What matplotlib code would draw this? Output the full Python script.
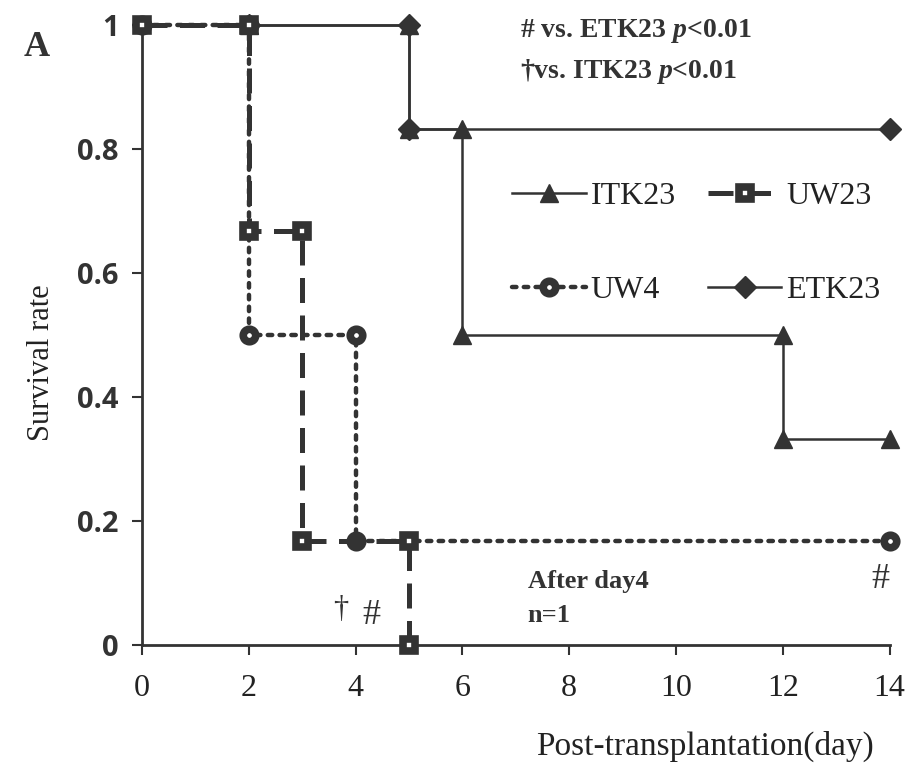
import matplotlib
matplotlib.use('Agg')
import matplotlib.pyplot as plt

# survival curves (Kaplan-Meier steps, corner points)
itk_day = [2, 5, 5, 6, 6, 12, 12, 14]
itk_surv = [1, 1, 0.833, 0.833, 0.5, 0.5, 0.333, 0.333]
etk_day = [2, 5, 5, 14]
etk_surv = [1, 1, 0.833, 0.833]
uw23_day = [0, 2, 2, 3, 3, 5, 5]
uw23_surv = [1, 1, 0.667, 0.667, 0.167, 0.167, 0]
uw4_day = [0, 2, 2, 4, 4, 14]
uw4_surv = [1, 1, 0.5, 0.5, 0.167, 0.167]

x_ticks = [0, 2, 4, 6, 8, 10, 12, 14]
y_ticks = [0, 0.2, 0.4, 0.6, 0.8, 1]
y_ticklabels = ['0', '0.2', '0.4', '0.6', '0.8', '1']

plt.rcParams['font.family'] = 'Liberation Serif'
plt.rcParams['mathtext.fontset'] = 'custom'
plt.rcParams['mathtext.it'] = 'Liberation Serif:bold:italic'
plt.rcParams['mathtext.rm'] = 'Liberation Serif:bold'

c = '#333333'
tc = '#222222'

fig = plt.figure(figsize=(9.05, 7.63), dpi=100)
ax = fig.add_axes([0.157, 0.1547, 0.826, 0.8125])

ax.plot(itk_day, itk_surv, '-', color=c, lw=1.8, marker='^', ms=13,
        mec=c, mfc=c, label='ITK23', clip_on=False, zorder=3)
ax.plot(etk_day, etk_surv, '-', color=c, lw=1.8, marker='D', ms=11,
        mec=c, mfc=c, label='ETK23', clip_on=False, zorder=3)
ax.plot(uw4_day, uw4_surv, ':', color=c, lw=3.2, marker='o', ms=9,
        mec=c, mfc='white', mew=5.5, label='UW4', clip_on=False, zorder=4,
        dash_capstyle='round')
ax.plot(uw23_day, uw23_surv, '--', color=c, lw=3.6, marker='s', ms=9,
        mec=c, mfc='white', mew=5.5, label='UW23', clip_on=False, zorder=5,
        dashes=(5, 2.5))

ax.set_xlim(0, 14)
ax.set_ylim(0, 1)
ax.set_xticks(x_ticks)
ax.set_yticks(y_ticks)
ax.set_yticklabels(y_ticklabels, fontfamily='Open Sans', fontweight='bold', fontsize=21, color=c)
for t in ax.get_xticklabels():
    t.set_fontsize(23)
    t.set_color(tc)
ax.tick_params(axis='both', direction='out', length=7, width=1.5, color=c)
ax.tick_params(axis='y', pad=10)
ax.tick_params(axis='x', pad=14)
ax.spines['top'].set_visible(False)
ax.spines['right'].set_visible(False)
ax.spines['left'].set_linewidth(2)
ax.spines['bottom'].set_linewidth(2)
ax.spines['left'].set_color(c)
ax.spines['bottom'].set_color(c)

ax.set_ylabel('Survival rate', fontsize=22, color=tc)
ax.yaxis.set_label_coords(-0.115, 0.456)
ax.set_xlabel('Post-transplantation(day)', fontsize=24, color=tc)
ax.xaxis.set_label_coords(0.753, -0.138)

h, l = ax.get_legend_handles_labels()
order = [0, 2, 3, 1]
ax.legend([h[i] for i in order], [l[i] for i in order], ncol=2, frameon=False,
          fontsize=23, loc='upper left', bbox_to_anchor=(0.457, 0.793),
          handlelength=2.3, handletextpad=0.15, columnspacing=1.0,
          labelspacing=2.0, labelcolor=tc)

ax.text(7.07, 0.99, r'# vs. ETK23 $\it{p}$<0.01', fontsize=20, fontweight='bold',
        color=c, va='center')
ax.text(7.07, 0.925, r'†vs. ITK23 $\it{p}$<0.01', fontsize=20, fontweight='bold',
        color=c, va='center')
ax.text(7.22, 0.102, 'After day4', fontsize=19, fontweight='bold', color=c, va='center')
ax.text(7.22, 0.048, 'n=1', fontsize=19, fontweight='bold', color=c, va='center')
ax.text(3.73, 0.058, '†', fontsize=22, color=c, va='center', ha='center')
ax.text(4.3, 0.048, '#', fontsize=26, color=c, va='center', ha='center')
ax.text(13.82, 0.105, '#', fontsize=26, color=c, va='center', ha='center')

fig.text(0.04, 0.938, 'A', fontsize=26, fontweight='bold', color=c, va='center', ha='center')

fig.savefig('out.png', dpi=100)
